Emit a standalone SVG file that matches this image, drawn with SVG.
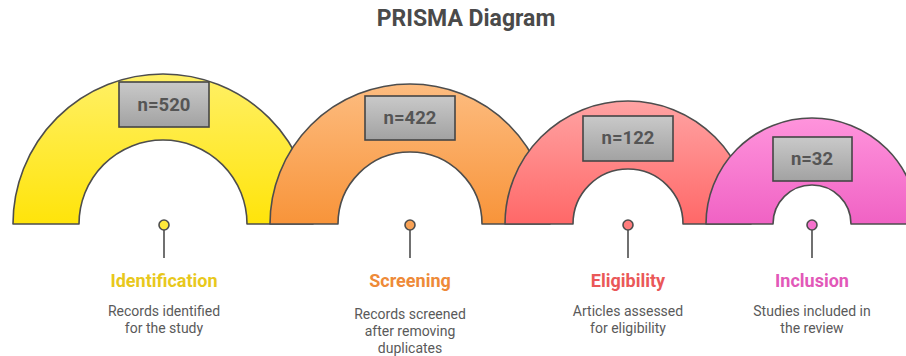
<svg xmlns="http://www.w3.org/2000/svg" width="906" height="356" viewBox="0 0 906 356">
<defs>
<linearGradient id="gY" x1="0" y1="0" x2="0" y2="1"><stop offset="0" stop-color="#fff066"/><stop offset="1" stop-color="#ffe40a"/></linearGradient>
<linearGradient id="gO" x1="0" y1="0" x2="0" y2="1"><stop offset="0" stop-color="#fdbc80"/><stop offset="1" stop-color="#f8943a"/></linearGradient>
<linearGradient id="gR" x1="0" y1="0" x2="0" y2="1"><stop offset="0" stop-color="#ffa3a3"/><stop offset="1" stop-color="#ff6868"/></linearGradient>
<linearGradient id="gP" x1="0" y1="0" x2="0" y2="1"><stop offset="0" stop-color="#ff94dc"/><stop offset="1" stop-color="#f062c4"/></linearGradient>
<linearGradient id="gB" x1="0" y1="0" x2="0" y2="1"><stop offset="0" stop-color="#c9c9c9"/><stop offset="1" stop-color="#a2a2a2"/></linearGradient>
<style>
.arch{stroke:#4d4d4d;stroke-width:1.6;stroke-linejoin:round}
.box{fill:url(#gB);stroke:#454545;stroke-width:1.6}
.n{font-family:Roboto,"Liberation Sans",sans-serif;font-weight:bold;font-size:18.5px;fill:#555;text-anchor:middle}
.title{font-family:Roboto,"Liberation Sans",sans-serif;font-weight:bold;font-size:23px;fill:#4a4a4a;text-anchor:middle}
.lbl{font-family:Roboto,"Liberation Sans",sans-serif;font-weight:bold;font-size:18px;text-anchor:middle}
.desc{font-family:Roboto,"Liberation Sans",sans-serif;font-size:14px;fill:#5a5a5a;text-anchor:middle}
.pin{stroke:#4d4d4d;stroke-width:1.6}
</style>
</defs>
<rect width="906" height="356" fill="#ffffff"/>
<text class="title" x="466" y="26">PRISMA Diagram</text>

<g id="identification">
<path class="arch" fill="url(#gY)" d="M13,224 A150,150 0 0 1 313,224 L247,224 A84,84 0 0 0 79,224 Z"/>
<rect class="box" x="119" y="82" width="90" height="45"/>
<text class="n" x="164" y="111">n=520</text>
<text class="lbl" x="164" y="287" fill="#e8c81c">Identification</text>
<text class="desc" x="164" y="316">Records identified</text>
<text class="desc" x="164" y="333">for the study</text>
</g>

<g id="screening">
<path class="arch" fill="url(#gO)" d="M270,224 A140,140 0 0 1 550,224 L482,224 A72,72 0 0 0 338,224 Z"/>
<rect class="box" x="365" y="96" width="90" height="44"/>
<text class="n" x="410" y="124">n=422</text>
<text class="lbl" x="410" y="287" fill="#ee8a38">Screening</text>
<text class="desc" x="410" y="319">Records screened</text>
<text class="desc" x="410" y="336">after removing</text>
<text class="desc" x="410" y="353">duplicates</text>
</g>

<g id="eligibility">
<path class="arch" fill="url(#gR)" d="M505,224 A123,123 0 0 1 751,224 L683,224 A55,55 0 0 0 573,224 Z"/>
<rect class="box" x="583" y="116" width="90" height="45"/>
<text class="n" x="628" y="144">n=122</text>
<text class="lbl" x="628" y="287" fill="#ea5858">Eligibility</text>
<text class="desc" x="628" y="316">Articles assessed</text>
<text class="desc" x="628" y="333">for eligibility</text>
</g>

<g id="inclusion">
<path class="arch" fill="url(#gP)" d="M706,224 A106,106 0 0 1 918,224 L851,224 A39,39 0 0 0 773,224 Z"/>
<rect class="box" x="773" y="137" width="79" height="44"/>
<text class="n" x="812" y="165">n=32</text>
<text class="lbl" x="812" y="287" fill="#e258b8">Inclusion</text>
<text class="desc" x="812" y="316">Studies included in</text>
<text class="desc" x="812" y="333">the review</text>
</g>

<g id="connectors">
<line class="pin" x1="164" y1="230" x2="164" y2="258"/>
<circle class="pin" cx="164" cy="225" r="5" fill="#ffe83a"/>
<line class="pin" x1="410" y1="230" x2="410" y2="258"/>
<circle class="pin" cx="410" cy="225" r="5" fill="#f9a255"/>
<line class="pin" x1="628" y1="230" x2="628" y2="258"/>
<circle class="pin" cx="628" cy="225" r="5" fill="#ff7c7c"/>
<line class="pin" x1="812" y1="230" x2="812" y2="258"/>
<circle class="pin" cx="812" cy="225" r="5" fill="#f570cc"/>
</g>
</svg>
